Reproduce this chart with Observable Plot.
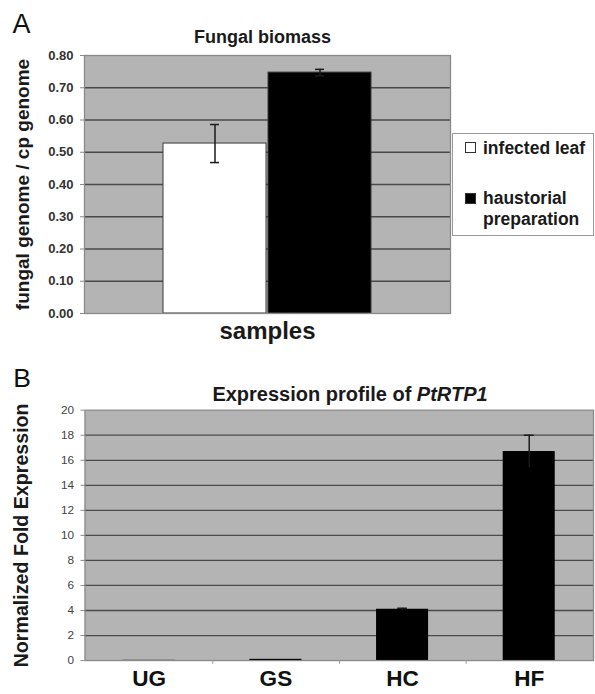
<!DOCTYPE html>
<html>
<head>
<meta charset="utf-8">
<script src="https://cdn.jsdelivr.net/npm/d3@7"></script>
<script src="https://cdn.jsdelivr.net/npm/@observablehq/plot@0.6"></script>
<style>
html, body { margin: 0; padding: 0; background: #fff; overflow: hidden; }
#page { position: relative; width: 595px; height: 694px; overflow: hidden; font-family: "Liberation Sans", Arial, sans-serif; }
#pa { position: absolute; left: 0; top: 0; }
#pb { position: absolute; left: 0; top: 340px; }
#legend { position: absolute; left: 452px; top: 133px; width: 140px; height: 101px; border: 1px solid #9a9a9a; background: #fff; }
.lg-sw { position: absolute; left: 12px; width: 9px; height: 9px; border: 1.5px solid #333; }
.lg-tx { position: absolute; left: 30px; font-size: 17.5px; line-height: 21px; font-weight: bold; color: #1a1a1a; white-space: nowrap; }
#titleB { position: absolute; left: 0; top: 384px; width: 700px; text-align: center; font-size: 20px; line-height: 20px; font-weight: bold; color: #1a1a1a; }
</style>
</head>
<body>
<div id="page">
  <div id="pa"></div>
  <div id="legend"></div>
  <div id="pb"></div>
  <div id="titleB"></div>
</div>
<script>
// ---------- Panel A data ----------
const seriesA = ["infected leaf", "haustorial preparation"];
const legendLinesA = [["infected leaf"], ["haustorial", "preparation"]];
const valuesA = [0.527, 0.747];
const errorsA = [0.059, 0.010];
const ticksA = [0.0, 0.1, 0.2, 0.3, 0.4, 0.5, 0.6, 0.7, 0.8];
const titleA = "Fungal biomass";
const yLabelA = "fungal genome / cp genome";
const xLabelA = "samples";

// ---------- Panel B data ----------
const catsB = ["UG", "GS", "HC", "HF"];
const valuesB = [0.02, 0.1, 4.1, 16.7];
const errorsB = [0, 0, 0.08, 1.3];
const ticksB = [0, 2, 4, 6, 8, 10, 12, 14, 16, 18, 20];
const titleBText = "Expression profile of ";
const titleBGene = "PtRTP1";
const yLabelB = "Normalized Fold Expression";

const FONT = "Liberation Sans, Arial, sans-serif";
const BG = "#b4b4b4";
const GRID = "#4a4a4a";
const BORDER = "#8a8a8a";
const ERR = "#1a1a1a";

// ---------- Panel A ----------
const rowsA = seriesA.map((s, i) => ({sample: s, value: valuesA[i], err: errorsA[i]}));
const mA = {top: 55, right: 145, bottom: 27, left: 84};
const WA = 595, HA = 340;
const pInA = 0.02, pOutA = 0.752;
const stepA = (WA - mA.left - mA.right) / (seriesA.length - pInA + 2 * pOutA);
const bwA = stepA * (1 - pInA);
const capA = 9;
const insA = (bwA - capA) / 2;

const plotA = Plot.plot({
  width: WA, height: HA,
  marginTop: mA.top, marginRight: mA.right, marginBottom: mA.bottom, marginLeft: mA.left,
  style: {fontFamily: FONT, background: "transparent", overflow: "visible"},
  x: {domain: seriesA, paddingInner: pInA, paddingOuter: pOutA, axis: null},
  y: {domain: [0, 0.8], axis: null},
  color: {domain: seriesA, range: ["#ffffff", "#000000"]},
  marks: [
    Plot.frame({fill: BG, stroke: "none"}),
    Plot.ruleY(ticksA.filter(t => t > 0 && t < 0.8), {stroke: GRID, strokeWidth: 1.3}),
    Plot.barY(rowsA, {x: "sample", y: "value", fill: "sample", stroke: "#3a3a3a", strokeWidth: 1}),
    Plot.ruleX(rowsA, {x: "sample", y1: d => d.value - d.err, y2: d => d.value + d.err, stroke: ERR, strokeWidth: 1.5}),
    Plot.tickY(rowsA, {x: "sample", y: d => d.value + d.err, insetLeft: insA, insetRight: insA, stroke: ERR, strokeWidth: 1.5}),
    Plot.tickY(rowsA, {x: "sample", y: d => d.value - d.err, insetLeft: insA, insetRight: insA, stroke: ERR, strokeWidth: 1.5}),
    Plot.frame({stroke: BORDER, strokeWidth: 1.3}),
    Plot.axisY({ticks: ticksA, tickFormat: d3.format(".2f"), tickSize: 4, tickPadding: 7, fontSize: 13, fontWeight: "bold", fill: "#333", stroke: BORDER, label: null}),
    Plot.text([titleA], {text: d => d, frameAnchor: "top", dx: -5, dy: -13, lineAnchor: "bottom", fontSize: 18, fontWeight: "bold", fill: "#1a1a1a"}),
    Plot.text(["A"], {text: d => d, frameAnchor: "top-left", dx: -72, dy: -23, textAnchor: "start", lineAnchor: "bottom", fontSize: 27, fill: "#111"}),
    Plot.text([yLabelA], {text: d => d, frameAnchor: "left", dx: -62, rotate: -90, textAnchor: "middle", lineAnchor: "middle", fontSize: 19, fontWeight: "bold", fill: "#1a1a1a"}),
    Plot.text([xLabelA], {text: d => d, frameAnchor: "bottom", dy: 25, lineAnchor: "bottom", fontSize: 24, fontWeight: "bold", fill: "#1a1a1a"})
  ]
});
document.getElementById("pa").appendChild(plotA);

// Legend A (HTML, built from the series)
const legend = document.getElementById("legend");
const swTops = [8, 59];
const txTops = [4.4, 54.4];
const swFill = ["#ffffff", "#000000"];
seriesA.forEach((s, i) => {
  const sw = document.createElement("div");
  sw.className = "lg-sw";
  sw.style.top = swTops[i] + "px";
  sw.style.background = swFill[i];
  legend.appendChild(sw);
  const tx = document.createElement("div");
  tx.className = "lg-tx";
  tx.style.top = txTops[i] + "px";
  tx.innerHTML = legendLinesA[i].join("<br>");
  legend.appendChild(tx);
});

// ---------- Panel B ----------
const rowsB = catsB.map((c, i) => ({cat: c, value: valuesB[i], err: errorsB[i]}));
const mB = {top: 71, right: 2, bottom: 28, left: 86};
const WB = 606, HB = 354;
const pInB = 0.59, pOutB = 0.295;
const stepB = (WB - mB.left - mB.right) / (catsB.length - pInB + 2 * pOutB);
const bwB = stepB * (1 - pInB);
const capB = 10;
const insB = (bwB - capB) / 2;
const errRowsB = rowsB.filter(d => d.err > 0);

const plotB = Plot.plot({
  width: WB, height: HB,
  marginTop: mB.top, marginRight: mB.right, marginBottom: mB.bottom, marginLeft: mB.left,
  style: {fontFamily: FONT, background: "transparent", overflow: "visible"},
  x: {domain: catsB, paddingInner: pInB, paddingOuter: pOutB, axis: null},
  y: {domain: [0, 20], axis: null},
  marks: [
    Plot.frame({fill: BG, stroke: "none"}),
    Plot.ruleY(ticksB.filter(t => t > 0 && t < 20), {stroke: GRID, strokeWidth: 1.3}),
    Plot.barY(rowsB, {x: "cat", y: "value", fill: "#000"}),
    Plot.ruleX(errRowsB, {x: "cat", y1: d => d.value - d.err, y2: d => d.value + d.err, stroke: ERR, strokeWidth: 1.5}),
    Plot.tickY(errRowsB, {x: "cat", y: d => d.value + d.err, insetLeft: insB, insetRight: insB, stroke: ERR, strokeWidth: 1.5}),
    Plot.frame({stroke: BORDER, strokeWidth: 1.3}),
    Plot.ruleX(catsB.slice(0, -1), {x: d => d, dx: stepB / 2, y1: 0, y2: -0.3, stroke: "#999", strokeWidth: 1}),
    Plot.axisY({ticks: ticksB, tickSize: 4, tickPadding: 7, fontSize: 12, fill: "#444", stroke: BORDER, label: null}),
    Plot.axisX({tickSize: 0, tickPadding: 10, fontSize: 23, fontWeight: "bold", fill: "#111", label: null}),
    Plot.text(["B"], {text: d => d, frameAnchor: "top-left", dx: -73, dy: -24, textAnchor: "start", lineAnchor: "bottom", fontSize: 27, fill: "#111"}),
    Plot.text([yLabelB], {text: d => d, frameAnchor: "left", dx: -64, rotate: -90, textAnchor: "middle", lineAnchor: "middle", fontSize: 20, fontWeight: "bold", fill: "#1a1a1a"})
  ]
});
document.getElementById("pb").appendChild(plotB);

// Title B with italic gene name
const tB = document.getElementById("titleB");
tB.appendChild(document.createTextNode(titleBText));
const it = document.createElement("i");
it.textContent = titleBGene;
tB.appendChild(it);
</script>
</body>
</html>
